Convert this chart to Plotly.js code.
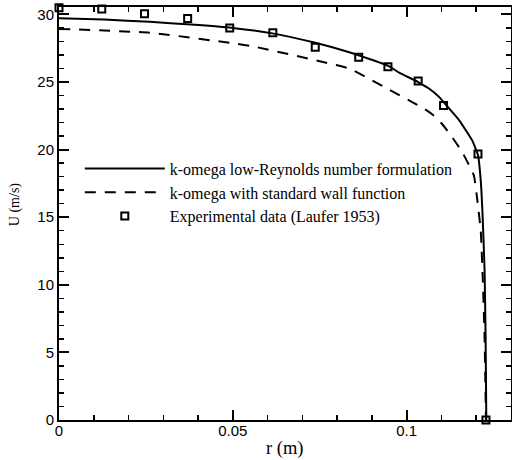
<!DOCTYPE html>
<html>
<head>
<meta charset="utf-8">
<script src="https://cdn.plot.ly/plotly-3.0.1.min.js"></script>
<style>html,body{margin:0;padding:0;background:#fff}#chart{width:512px;height:460px}</style>
</head>
<body>
<div id="chart"></div>
<script>
// k-omega low-Reynolds number formulation (solid)
var rLowRe = [0, 0.013, 0.0261, 0.038, 0.0499, 0.0614, 0.0737, 0.0835, 0.0947, 0.0978, 0.1033, 0.1065, 0.1093, 0.112, 0.115, 0.1188, 0.1205, 0.1213, 0.1218, 0.1224, 0.1227, 0.1229];
var uLowRe = [29.72, 29.62, 29.45, 29.25, 29.0, 28.6, 27.9, 27.2, 26.2, 25.7, 25.0, 24.5, 23.9, 23.1, 22.2, 20.7, 19.6, 17.7, 15.3, 11.1, 6.0, 0];
// k-omega with standard wall function (dashed)
var rWall = [0, 0.0261, 0.0499, 0.0565, 0.0756, 0.0835, 0.089, 0.0945, 0.1017, 0.1045, 0.1074, 0.11, 0.1126, 0.116, 0.1193, 0.1203, 0.1213, 0.1219, 0.1224, 0.1228];
var uWall = [28.93, 28.65, 27.87, 27.6, 26.5, 26.0, 25.27, 24.5, 23.5, 23.1, 22.6, 21.95, 21.1, 19.8, 18.1, 16.3, 14.0, 10.3, 6.1, 0];
// Experimental data (Laufer 1953)
var rExp = [0, 0.0123, 0.0246, 0.037, 0.0491, 0.0615, 0.0737, 0.0862, 0.0946, 0.1033, 0.1106, 0.1205, 0.1228];
var uExp = [30.5, 30.4, 30.05, 29.7, 29.0, 28.65, 27.57, 26.83, 26.13, 25.07, 23.27, 19.67, 0];

var names = ["k-omega low-Reynolds number formulation", "k-omega with standard wall function", "Experimental data (Laufer 1953)"];
var xTitle = "r (m)";
var yTitle = "U (m/s)";

var traces = [
  {x: rLowRe, y: uLowRe, name: names[0], mode: "lines", line: {color: "#000", width: 2, shape: "spline", smoothing: 0.4}, type: "scatter"},
  {x: rWall, y: uWall, name: names[1], mode: "lines", line: {color: "#000", width: 2, dash: "11px,9px", shape: "spline", smoothing: 0.4}, type: "scatter"},
  {x: rExp, y: uExp, name: names[2], mode: "markers", cliponaxis: false,
   marker: {symbol: "square-open", size: 7, color: "#000", line: {color: "#000", width: 2}}, type: "scatter"}
];

var tickFont = {family: "Liberation Sans, Arial, sans-serif", size: 15, color: "#000"};

var layout = {
  width: 512, height: 460,
  margin: {l: 59, r: 1, t: 7, b: 40},
  paper_bgcolor: "#fff", plot_bgcolor: "#fff",
  showlegend: true,
  legend: {x: 0.046, y: 0.65, xanchor: "left", yanchor: "top", bgcolor: "rgba(0,0,0,0)",
           font: {family: "Liberation Serif, Times New Roman, serif", size: 16, color: "#000"},
           itemwidth: 80, tracegroupgap: 0},
  xaxis: {range: [0, 0.13], tickmode: "linear", tick0: 0, dtick: 0.05,
    showline: true, linewidth: 2, linecolor: "#000", mirror: "allticks",
    ticks: "inside", ticklen: 10, tickwidth: 2, tickcolor: "#000",
    showgrid: false, zeroline: false, tickfont: tickFont, ticklabelstandoff: -4,
    minor: {dtick: 0.01, tick0: 0, ticks: "inside", ticklen: 5, tickwidth: 1.5, tickcolor: "#000", showgrid: false}},
  yaxis: {range: [0, 30.55], tickmode: "linear", tick0: 0, dtick: 5,
    showline: true, linewidth: 2, linecolor: "#000", mirror: "allticks",
    ticks: "inside", ticklen: 10, tickwidth: 2, tickcolor: "#000",
    showgrid: false, zeroline: false, tickfont: tickFont,
    minor: {dtick: 1, tick0: 0, ticks: "inside", ticklen: 5, tickwidth: 1.5, tickcolor: "#000", showgrid: false}},
  annotations: [
    {text: xTitle, xref: "paper", yref: "paper", x: 0.5, y: -0.07, xanchor: "center", yanchor: "middle", showarrow: false,
     font: {family: "Liberation Serif, Times New Roman, serif", size: 18.5, color: "#000"}},
    {text: yTitle, xref: "paper", yref: "paper", x: -0.097, y: 0.523, xanchor: "center", yanchor: "middle", textangle: -90, showarrow: false,
     font: {family: "Liberation Serif, Times New Roman, serif", size: 14, color: "#000"}}
  ]
};

Plotly.newPlot("chart", traces, layout, {displayModeBar: false, staticPlot: true});
</script>
</body>
</html>
